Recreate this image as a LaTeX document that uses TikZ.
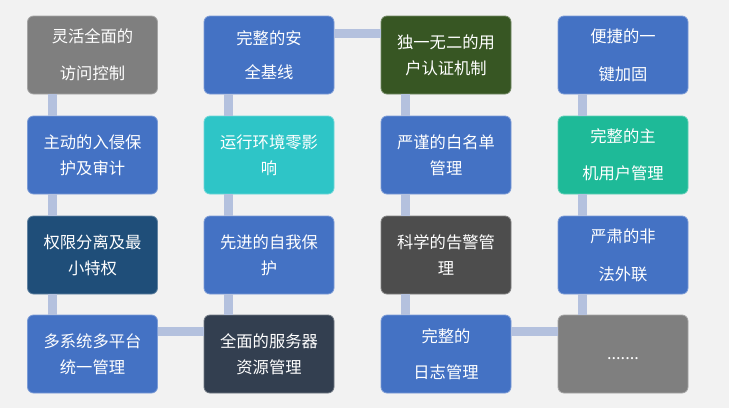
\documentclass[tikz,border=0pt]{standalone}
\usepackage{fontspec}
\newfontfamily\cjk{Noto Sans CJK SC}
\definecolor{bg}{HTML}{F2F2F2}
\definecolor{conncol}{HTML}{B4C1DE}
\definecolor{cgray}{HTML}{7F7F7F}
\definecolor{cblue}{HTML}{4472C4}
\definecolor{cgreen}{HTML}{375623}
\definecolor{cteal}{HTML}{2EC5C7}
\definecolor{cmint}{HTML}{1EBA98}
\definecolor{cnavy}{HTML}{1F4E79}
\definecolor{cdark}{HTML}{4D4D4D}
\definecolor{cslate}{HTML}{333F50}
\tikzset{
  card/.style={rounded corners=6pt, minimum width=130pt, minimum height=78pt,
    fill=#1, draw=#1!70!white, line width=0.8pt, text=white, align=center, inner sep=0pt,
    font=\cjk\fontsize{16.3}{26}\selectfont},
  conn/.style={draw=conncol, line width=9pt},
}
\begin{document}
\begin{tikzpicture}[x=1pt,y=-1pt]
\fill[bg] (0,0) rectangle (729,408);
\useasboundingbox (0,0) rectangle (729,408);
\node[card=cgray]  (b11) at (92.5,55)  {灵活全面的\\[11pt]访问控制};
\node[card=cblue]  (b21) at (92.5,155) {主动的入侵保\\护及审计};
\node[card=cnavy]  (b31) at (92.5,255) {权限分离及最\\小特权};
\node[card=cblue]  (b41) at (92.5,354) {多系统多平台\\统一管理};
\node[card=cblue]  (b12) at (269,55)   {完整的安\\[8pt]全基线};
\node[card=cteal]  (b22) at (269,155)  {运行环境零影\\响};
\node[card=cblue]  (b32) at (269,255)  {先进的自我保\\护};
\node[card=cslate] (b42) at (269,354)  {全面的服务器\\资源管理};
\node[card=cgreen] (b13) at (446,55)   {独一无二的用\\户认证机制};
\node[card=cblue]  (b23) at (446,155)  {严谨的白名单\\管理};
\node[card=cdark]  (b33) at (446,255)  {科学的告警管\\理};
\node[card=cblue]  (b43) at (446,354)  {完整的\\[10pt]日志管理};
\node[card=cblue]  (b14) at (623,55)   {便捷的一\\[12pt]键加固};
\node[card=cmint]  (b24) at (623,155)  {完整的主\\[11pt]机用户管理};
\node[card=cblue]  (b34) at (623,255)  {严肃的非\\[12pt]法外联};
\node[card=cgray]  (b44) at (623,354)  {\raisebox{-5.5pt}[0pt][0pt]{.......}};
\foreach \c in {1,2,3,4}{
  \draw[conn] ([xshift=25pt]b1\c.south west) -- ([xshift=25pt]b2\c.north west);
  \draw[conn] ([xshift=25pt]b2\c.south west) -- ([xshift=25pt]b3\c.north west);
  \draw[conn] ([xshift=25pt]b3\c.south west) -- ([xshift=25pt]b4\c.north west);
}
\draw[conn] ([yshift=-18pt]b12.north east) -- ([yshift=-18pt]b13.north west);
\draw[conn] ([yshift=-17pt]b41.north east) -- ([yshift=-17pt]b42.north west);
\draw[conn] ([yshift=-17pt]b43.north east) -- ([yshift=-17pt]b44.north west);
\end{tikzpicture}
\end{document}
